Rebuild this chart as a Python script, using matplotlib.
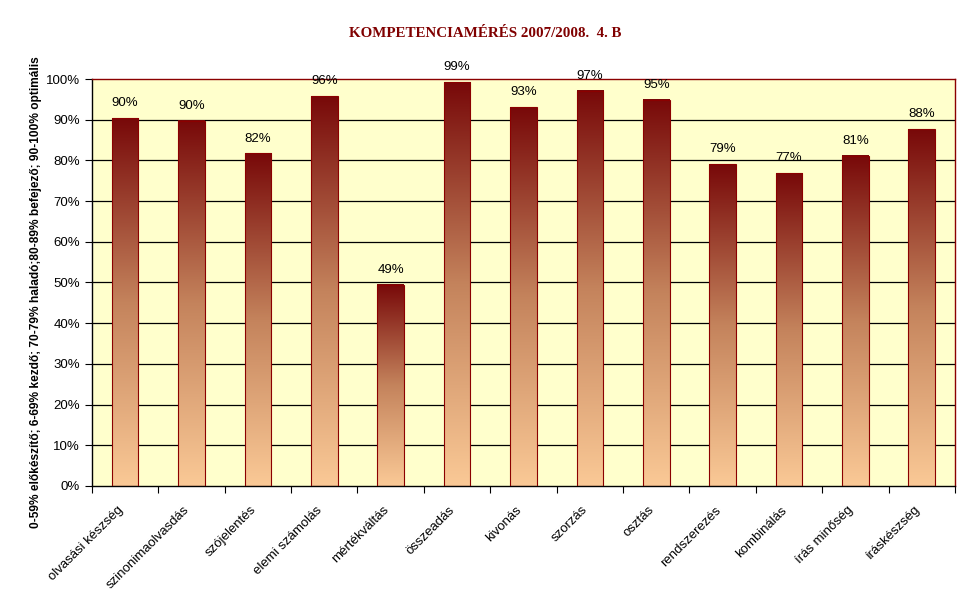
import numpy as np
import matplotlib.pyplot as plt
from matplotlib.colors import LinearSegmentedColormap
from matplotlib.ticker import PercentFormatter
from matplotlib.transforms import ScaledTranslation

categories = ['olvasási készség', 'szinonimaolvasdás', 'szójelentés', 'elemi számolás',
              'mértékváltás', 'összeadás', 'kivonás', 'szorzás', 'osztás',
              'rendszerezés', 'kombinálás', 'írás minőség', 'íráskészség']
values = [90.4, 89.8, 81.7, 95.8, 49.4, 99.2, 93.1, 97.1, 94.9, 79.1, 76.9, 81.1, 87.7]
labels = ['90%', '90%', '82%', '96%', '49%', '99%', '93%', '97%', '95%', '79%', '77%', '81%', '88%']

title = 'KOMPETENCIAMÉRÉS 2007/2008.  4. B'
ylabel = '0-59% előkészítő; 6-69% kezdő; 70-79% haladó;80-89% befejező; 90-100% optimális'

plt.rcParams['font.family'] = ['Liberation Sans', 'DejaVu Sans']

fig = plt.figure(figsize=(9.7, 6.04), dpi=100)
ax = fig.add_axes([0.0948, 0.1954, 0.8897, 0.6738])
ax.set_facecolor('#FFFFCC')

cmap = LinearSegmentedColormap.from_list('grad', ['#FAC996', '#C4835C', '#780909'])
grad = np.linspace(0, 1, 256).reshape(-1, 1)

x = np.arange(len(categories))
w = 0.4
ax.set_xlim(-0.5, len(categories) - 0.5)
ax.set_ylim(0, 100)
for v in range(10, 100, 10):
    ax.axhline(v, color='black', lw=0.9, zorder=1)

for xi, v, lab in zip(x, values, labels):
    ax.imshow(grad, extent=(xi - w / 2, xi + w / 2, 0, v), origin='lower',
              cmap=cmap, aspect='auto', zorder=2)
    ax.add_patch(plt.Rectangle((xi - w / 2, 0), w, v, fill=False,
                               edgecolor='#8B0000', lw=0.8, zorder=3))
    ax.text(xi, v + 2.2, lab, ha='center', va='bottom', fontsize=9.5, zorder=4)

ax.set_xticks(np.arange(len(categories) + 1) - 0.5)
ax.set_xticklabels([])
ax.set_xticks(x, minor=True)
ax.set_xticklabels(categories, minor=True, rotation=45, ha='right',
                   rotation_mode='anchor', fontsize=9.5)
ax.tick_params(axis='x', which='minor', length=0, pad=13)
ax.tick_params(axis='x', which='major', length=5, direction='out')
shift = ScaledTranslation(-8 / 100, 0, fig.dpi_scale_trans)
for t in ax.get_xticklabels(minor=True):
    t.set_transform(t.get_transform() + shift)
ax.set_yticks(range(0, 101, 10))
ax.yaxis.set_major_formatter(PercentFormatter(decimals=0))
ax.tick_params(axis='y', length=5, labelsize=9.5)

ax.spines['top'].set_color('#8B0000')
ax.spines['right'].set_color('#8B0000')
for s in ax.spines.values():
    s.set_linewidth(1)

ax.set_ylabel(ylabel, fontsize=8.6, fontweight='bold')
ax.yaxis.set_label_coords(-0.058, 0.477)
fig.text(0.5, 0.945, title, ha='center', va='center', fontsize=10.8,
         fontweight='bold', color='#800000', family='Liberation Serif')

fig.savefig('out.png', dpi=100)
